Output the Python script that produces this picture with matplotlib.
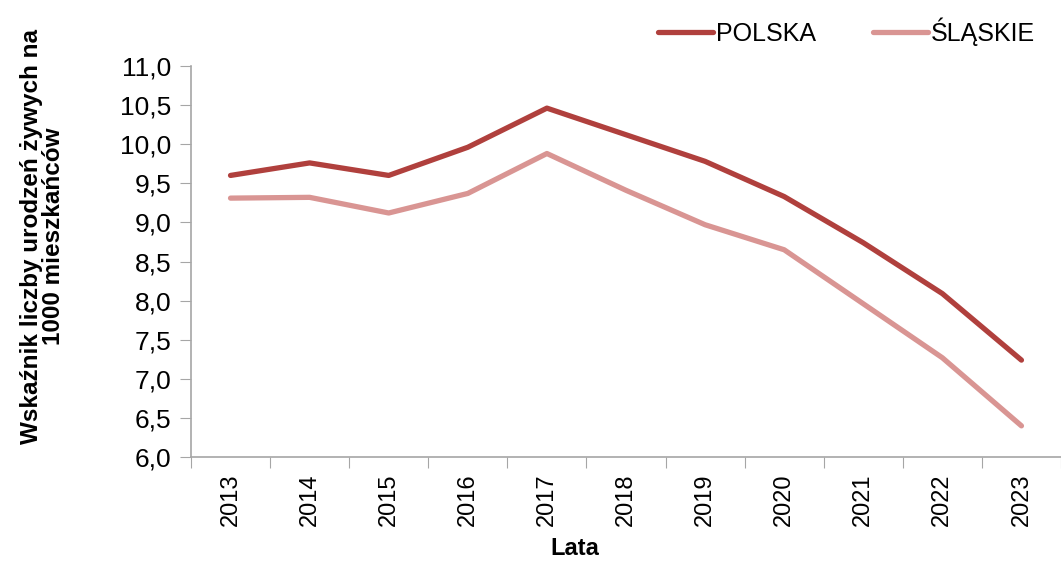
import numpy as np
import matplotlib.pyplot as plt

lata = ['2013', '2014', '2015', '2016', '2017', '2018', '2019', '2020', '2021', '2022', '2023']
polska = [9.60, 9.76, 9.60, 9.96, 10.46, 10.12, 9.78, 9.33, 8.74, 8.09, 7.24]
slaskie = [9.31, 9.32, 9.12, 9.37, 9.88, 9.41, 8.97, 8.65, 7.96, 7.27, 6.40]

plt.rcParams['font.family'] = ['Liberation Sans', 'DejaVu Sans']

fig = plt.figure(figsize=(10.61, 5.63), dpi=100)
ax = fig.add_axes([0.180, 0.188, 0.820, 0.695])

x = np.arange(len(lata))
ax.plot(x, polska, color='#B0403D', lw=3.8, label='POLSKA', solid_capstyle='round')
ax.plot(x, slaskie, color='#D99593', lw=3.8, label='ŚLĄSKIE', solid_capstyle='round')

ax.set_xlim(-0.5, len(lata) - 0.5)
ax.set_ylim(6.0, 11.0)
yt = np.arange(6.0, 11.01, 0.5)
ax.set_yticks(yt)
ax.set_yticklabels([f'{v:.1f}'.replace('.', ',') for v in yt], fontsize=19)

# ticks between categories, labels at category centres
ax.set_xticks(np.arange(-0.5, len(lata), 1.0))
ax.set_xticklabels([])
ax.set_xticks(x, minor=True)
ax.set_xticklabels(lata, minor=True, rotation=90, fontsize=17)
ax.tick_params(axis='x', which='minor', length=0, pad=12)
ax.tick_params(axis='x', which='major', length=8, color='#A6A6A6')
ax.tick_params(axis='y', length=8, color='#A6A6A6', pad=6)

for s in ['top', 'right']:
    ax.spines[s].set_visible(False)
for s in ['left', 'bottom']:
    ax.spines[s].set_color('#A6A6A6')
    ax.spines[s].set_linewidth(1.2)

ax.set_xlabel('Lata', fontsize=17, fontweight='bold')
ax.xaxis.set_label_coords(0.441, -0.205)
ax.set_ylabel('Wskaźnik liczby urodzeń żywych na\n1000 mieszkańców', fontsize=17.5,
              fontweight='bold', linespacing=0.95)
ax.yaxis.set_label_coords(-0.145, 0.565)

ax.legend(loc='lower right', bbox_to_anchor=(0.993, 1.0), ncol=2, frameon=False,
          fontsize=18, handlelength=2.2, handletextpad=0.1, columnspacing=2.3,
          borderaxespad=0.4)

fig.savefig('out.png', dpi=100)
